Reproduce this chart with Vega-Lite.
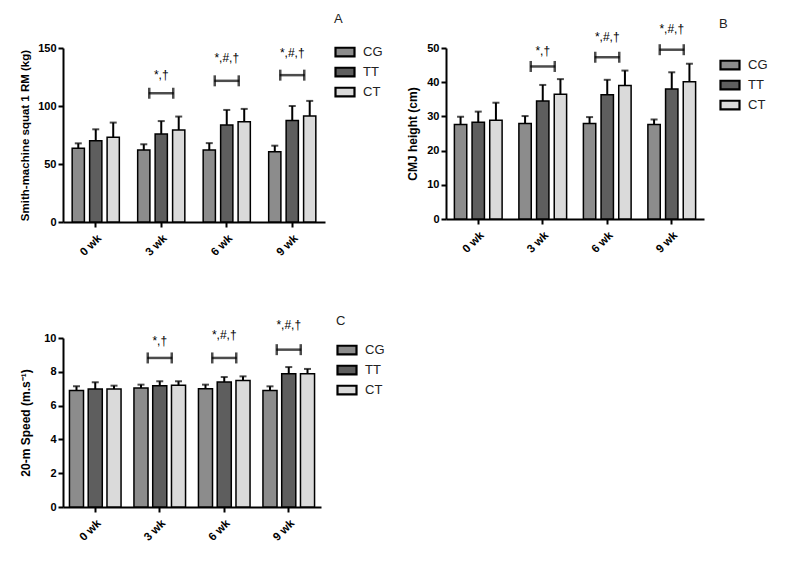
{
  "$schema": "https://vega.github.io/schema/vega-lite/v6.json",
  "padding": {"left": 19, "top": 13, "right": 5, "bottom": 5},
  "background": "white",
  "datasets": {
    "a": [
      {"week": "0 wk", "group": "CG", "mean": 63.5, "upper": 67.8},
      {"week": "0 wk", "group": "TT", "mean": 70.1, "upper": 79.9},
      {"week": "0 wk", "group": "CT", "mean": 73.0, "upper": 85.7},
      {"week": "3 wk", "group": "CG", "mean": 62.0, "upper": 67.0},
      {"week": "3 wk", "group": "TT", "mean": 75.9, "upper": 87.0},
      {"week": "3 wk", "group": "CT", "mean": 79.3, "upper": 90.9},
      {"week": "6 wk", "group": "CG", "mean": 62.0, "upper": 68.0},
      {"week": "6 wk", "group": "TT", "mean": 83.7, "upper": 96.6},
      {"week": "6 wk", "group": "CT", "mean": 86.5, "upper": 97.5},
      {"week": "9 wk", "group": "CG", "mean": 60.6, "upper": 65.8},
      {"week": "9 wk", "group": "TT", "mean": 87.4, "upper": 100.0},
      {"week": "9 wk", "group": "CT", "mean": 91.4, "upper": 104.4}
    ],
    "sa": [
      {"week": "3 wk", "bracket": 111.0, "labelY": 127.0, "label": "*,†"},
      {"week": "6 wk", "bracket": 121.7, "labelY": 141.0, "label": "*,#,†"},
      {"week": "9 wk", "bracket": 126.6, "labelY": 145.7, "label": "*,#,†"}
    ],
    "b": [
      {"week": "0 wk", "group": "CG", "mean": 27.6, "upper": 29.9},
      {"week": "0 wk", "group": "TT", "mean": 28.3, "upper": 31.4},
      {"week": "0 wk", "group": "CT", "mean": 28.9, "upper": 34.0},
      {"week": "3 wk", "group": "CG", "mean": 27.9, "upper": 30.1},
      {"week": "3 wk", "group": "TT", "mean": 34.5, "upper": 39.2},
      {"week": "3 wk", "group": "CT", "mean": 36.5, "upper": 40.9},
      {"week": "6 wk", "group": "CG", "mean": 27.9, "upper": 29.8},
      {"week": "6 wk", "group": "TT", "mean": 36.3, "upper": 40.7},
      {"week": "6 wk", "group": "CT", "mean": 39.0, "upper": 43.4},
      {"week": "9 wk", "group": "CG", "mean": 27.6, "upper": 29.1},
      {"week": "9 wk", "group": "TT", "mean": 38.0, "upper": 42.9},
      {"week": "9 wk", "group": "CT", "mean": 40.1, "upper": 45.4}
    ],
    "sb": [
      {"week": "3 wk", "bracket": 44.6, "labelY": 49.0, "label": "*,†"},
      {"week": "6 wk", "bracket": 47.3, "labelY": 53.3, "label": "*,#,†"},
      {"week": "9 wk", "bracket": 49.5, "labelY": 55.7, "label": "*,#,†"}
    ],
    "c": [
      {"week": "0 wk", "group": "CG", "mean": 6.9, "upper": 7.14},
      {"week": "0 wk", "group": "TT", "mean": 6.98, "upper": 7.38},
      {"week": "0 wk", "group": "CT", "mean": 6.98, "upper": 7.18},
      {"week": "3 wk", "group": "CG", "mean": 7.04, "upper": 7.24},
      {"week": "3 wk", "group": "TT", "mean": 7.18, "upper": 7.44},
      {"week": "3 wk", "group": "CT", "mean": 7.2, "upper": 7.44},
      {"week": "6 wk", "group": "CG", "mean": 7.0, "upper": 7.24},
      {"week": "6 wk", "group": "TT", "mean": 7.4, "upper": 7.69},
      {"week": "6 wk", "group": "CT", "mean": 7.48, "upper": 7.73},
      {"week": "9 wk", "group": "CG", "mean": 6.9, "upper": 7.14},
      {"week": "9 wk", "group": "TT", "mean": 7.89, "upper": 8.28},
      {"week": "9 wk", "group": "CT", "mean": 7.89, "upper": 8.17}
    ],
    "sc": [
      {"week": "3 wk", "bracket": 8.82, "labelY": 9.8, "label": "*,†"},
      {"week": "6 wk", "bracket": 8.82, "labelY": 10.15, "label": "*,#,†"},
      {"week": "9 wk", "bracket": 9.31, "labelY": 10.75, "label": "*,#,†"}
    ]
  },
  "config": {
    "font": "Liberation Sans",
    "view": {"stroke": null},
    "axis": {
      "grid": false,
      "domainColor": "black",
      "domainWidth": 2,
      "tickColor": "black",
      "tickWidth": 2,
      "tickSize": 5,
      "labelFont": "Liberation Sans",
      "labelFontWeight": "bold",
      "labelFontSize": 11,
      "labelColor": "black",
      "labelPadding": 2,
      "labelOverlap": false,
      "titleFont": "Liberation Sans",
      "titleFontWeight": "bold",
      "titleFontSize": 11.5,
      "titleColor": "black",
      "titlePadding": 7
    },
    "axisX": {"labelPadding": 5, "labelFontSize": 11.5},
    "legend": {
      "orient": "none",
      "titleFont": "Liberation Sans",
      "titleFontWeight": "normal",
      "titleFontSize": 13,
      "titleColor": "#222",
      "labelFont": "Liberation Sans",
      "labelFontSize": 13,
      "labelColor": "#222",
      "labelOffset": 7,
      "symbolType": "M-1,-0.45L1,-0.45L1,0.45L-1,0.45Z",
      "symbolSize": 361,
      "symbolStrokeColor": "black",
      "symbolStrokeWidth": 2.2,
      "rowPadding": 0
    }
  },
  "resolve": {"scale": {"color": "independent", "y": "independent", "x": "independent", "xOffset": "independent"}, "legend": {"color": "independent"}, "axis": {"y": "independent", "x": "independent"}},
  "vconcat": [
    {
      "resolve": {"scale": {"color": "independent", "y": "independent", "x": "independent", "xOffset": "independent"}, "legend": {"color": "independent"}, "axis": {"y": "independent", "x": "independent"}},
      "hconcat": [
        {
          "width": 262,
          "height": 174,
          "layer": [
            {
              "data": {"name": "a"},
              "mark": {"type": "bar", "stroke": "black", "strokeWidth": 1.5},
              "encoding": {
                "x": {"field": "week", "type": "nominal", "sort": ["0 wk", "3 wk", "6 wk", "9 wk"], "scale": {"paddingInner": 0.28, "paddingOuter": 0.14}, "axis": {"title": null, "labelAngle": -45}},
                "xOffset": {"field": "group", "type": "nominal", "sort": ["CG", "TT", "CT"], "scale": {"paddingInner": 0.3, "paddingOuter": 0}},
                "y": {"field": "mean", "type": "quantitative", "scale": {"domain": [0, 150], "nice": false}, "axis": {"title": "Smith-machine squat 1 RM (kg)", "values": [0, 50, 100, 150]}},
                "color": {"field": "group", "type": "nominal", "sort": ["CG", "TT", "CT"], "scale": {"domain": ["CG", "TT", "CT"], "range": ["#8c8c8c", "#5e5e5e", "#dadada"]}, "legend": {"title": "A", "legendX": 271, "legendY": -35, "titlePadding": 15}}
              }
            },
            {
              "data": {"name": "a"},
              "mark": {"type": "rule", "strokeWidth": 2, "color": "black"},
              "encoding": {
                "x": {"field": "week", "type": "nominal", "sort": ["0 wk", "3 wk", "6 wk", "9 wk"]},
                "xOffset": {"field": "group", "type": "nominal", "sort": ["CG", "TT", "CT"]},
                "y": {"field": "mean", "type": "quantitative", "axis": {"title": "Smith-machine squat 1 RM (kg)", "values": [0, 50, 100, 150]}},
                "y2": {"field": "upper"}
              }
            },
            {
              "data": {"name": "a"},
              "mark": {"type": "tick", "size": 7, "thickness": 2, "color": "black"},
              "encoding": {
                "x": {"field": "week", "type": "nominal", "sort": ["0 wk", "3 wk", "6 wk", "9 wk"]},
                "xOffset": {"field": "group", "type": "nominal", "sort": ["CG", "TT", "CT"]},
                "y": {"field": "upper", "type": "quantitative", "axis": {"title": "Smith-machine squat 1 RM (kg)", "values": [0, 50, 100, 150]}}
              }
            },
            {
              "data": {"name": "sa"},
              "mark": {"type": "tick", "size": 25, "thickness": 2.5, "color": "black"},
              "encoding": {
                "x": {"field": "week", "type": "nominal", "sort": ["0 wk", "3 wk", "6 wk", "9 wk"]},
                "y": {"field": "bracket", "type": "quantitative", "axis": {"title": "Smith-machine squat 1 RM (kg)", "values": [0, 50, 100, 150]}}
              }
            },
            {
              "data": {"name": "sa"},
              "mark": {"type": "tick", "orient": "vertical", "size": 11, "thickness": 2.5, "color": "black", "xOffset": -12},
              "encoding": {
                "x": {"field": "week", "type": "nominal", "sort": ["0 wk", "3 wk", "6 wk", "9 wk"]},
                "y": {"field": "bracket", "type": "quantitative", "axis": {"title": "Smith-machine squat 1 RM (kg)", "values": [0, 50, 100, 150]}}
              }
            },
            {
              "data": {"name": "sa"},
              "mark": {"type": "tick", "orient": "vertical", "size": 11, "thickness": 2.5, "color": "black", "xOffset": 12},
              "encoding": {
                "x": {"field": "week", "type": "nominal", "sort": ["0 wk", "3 wk", "6 wk", "9 wk"]},
                "y": {"field": "bracket", "type": "quantitative", "axis": {"title": "Smith-machine squat 1 RM (kg)", "values": [0, 50, 100, 150]}}
              }
            },
            {
              "data": {"name": "sa"},
              "mark": {"type": "text", "fontSize": 12, "font": "Liberation Sans", "color": "black", "baseline": "middle"},
              "encoding": {
                "x": {"field": "week", "type": "nominal", "sort": ["0 wk", "3 wk", "6 wk", "9 wk"]},
                "y": {"field": "labelY", "type": "quantitative", "axis": {"title": "Smith-machine squat 1 RM (kg)", "values": [0, 50, 100, 150]}},
                "text": {"field": "label"}
              }
            }
          ]
        },
        {
          "width": 258,
          "height": 171,
          "layer": [
            {
              "data": {"name": "b"},
              "mark": {"type": "bar", "stroke": "black", "strokeWidth": 1.5},
              "encoding": {
                "x": {"field": "week", "type": "nominal", "sort": ["0 wk", "3 wk", "6 wk", "9 wk"], "scale": {"paddingInner": 0.26, "paddingOuter": 0.13}, "axis": {"title": null, "labelAngle": -45}},
                "xOffset": {"field": "group", "type": "nominal", "sort": ["CG", "TT", "CT"], "scale": {"paddingInner": 0.3, "paddingOuter": 0}},
                "y": {"field": "mean", "type": "quantitative", "scale": {"domain": [0, 50], "nice": false}, "axis": {"title": "CMJ height (cm)", "titleFontSize": 12, "values": [0, 10, 20, 30, 40, 50]}},
                "color": {"field": "group", "type": "nominal", "sort": ["CG", "TT", "CT"], "scale": {"domain": ["CG", "TT", "CT"], "range": ["#8c8c8c", "#5e5e5e", "#dadada"]}, "legend": {"title": "B", "legendX": 273, "legendY": -30, "titlePadding": 23}}
              }
            },
            {
              "data": {"name": "b"},
              "mark": {"type": "rule", "strokeWidth": 2, "color": "black"},
              "encoding": {
                "x": {"field": "week", "type": "nominal", "sort": ["0 wk", "3 wk", "6 wk", "9 wk"]},
                "xOffset": {"field": "group", "type": "nominal", "sort": ["CG", "TT", "CT"]},
                "y": {"field": "mean", "type": "quantitative", "axis": {"title": "CMJ height (cm)", "titleFontSize": 12, "values": [0, 10, 20, 30, 40, 50]}},
                "y2": {"field": "upper"}
              }
            },
            {
              "data": {"name": "b"},
              "mark": {"type": "tick", "size": 7, "thickness": 2, "color": "black"},
              "encoding": {
                "x": {"field": "week", "type": "nominal", "sort": ["0 wk", "3 wk", "6 wk", "9 wk"]},
                "xOffset": {"field": "group", "type": "nominal", "sort": ["CG", "TT", "CT"]},
                "y": {"field": "upper", "type": "quantitative", "axis": {"title": "CMJ height (cm)", "titleFontSize": 12, "values": [0, 10, 20, 30, 40, 50]}}
              }
            },
            {
              "data": {"name": "sb"},
              "mark": {"type": "tick", "size": 25, "thickness": 2.5, "color": "black"},
              "encoding": {
                "x": {"field": "week", "type": "nominal", "sort": ["0 wk", "3 wk", "6 wk", "9 wk"]},
                "y": {"field": "bracket", "type": "quantitative", "axis": {"title": "CMJ height (cm)", "titleFontSize": 12, "values": [0, 10, 20, 30, 40, 50]}}
              }
            },
            {
              "data": {"name": "sb"},
              "mark": {"type": "tick", "orient": "vertical", "size": 11, "thickness": 2.5, "color": "black", "xOffset": -12},
              "encoding": {
                "x": {"field": "week", "type": "nominal", "sort": ["0 wk", "3 wk", "6 wk", "9 wk"]},
                "y": {"field": "bracket", "type": "quantitative", "axis": {"title": "CMJ height (cm)", "titleFontSize": 12, "values": [0, 10, 20, 30, 40, 50]}}
              }
            },
            {
              "data": {"name": "sb"},
              "mark": {"type": "tick", "orient": "vertical", "size": 11, "thickness": 2.5, "color": "black", "xOffset": 12},
              "encoding": {
                "x": {"field": "week", "type": "nominal", "sort": ["0 wk", "3 wk", "6 wk", "9 wk"]},
                "y": {"field": "bracket", "type": "quantitative", "axis": {"title": "CMJ height (cm)", "titleFontSize": 12, "values": [0, 10, 20, 30, 40, 50]}}
              }
            },
            {
              "data": {"name": "sb"},
              "mark": {"type": "text", "fontSize": 12, "font": "Liberation Sans", "color": "black", "baseline": "middle"},
              "encoding": {
                "x": {"field": "week", "type": "nominal", "sort": ["0 wk", "3 wk", "6 wk", "9 wk"]},
                "y": {"field": "labelY", "type": "quantitative", "axis": {"title": "CMJ height (cm)", "titleFontSize": 12, "values": [0, 10, 20, 30, 40, 50]}},
                "text": {"field": "label"}
              }
            }
          ]
        }
      ],
      "spacing": 23
    },
    {
      "width": 258,
      "height": 169,
      "layer": [
        {
          "data": {"name": "c"},
          "mark": {"type": "bar", "stroke": "black", "strokeWidth": 1.5},
          "encoding": {
            "x": {"field": "week", "type": "nominal", "sort": ["0 wk", "3 wk", "6 wk", "9 wk"], "scale": {"paddingInner": 0.2, "paddingOuter": 0.1}, "axis": {"title": null, "labelAngle": -45}},
            "xOffset": {"field": "group", "type": "nominal", "sort": ["CG", "TT", "CT"], "scale": {"paddingInner": 0.25, "paddingOuter": 0}},
            "y": {"field": "mean", "type": "quantitative", "scale": {"domain": [0, 10], "nice": false}, "axis": {"title": "20-m Speed  (m.s⁻¹)", "titleFontSize": 12, "titlePadding": 11, "values": [0, 2, 4, 6, 8, 10]}},
            "color": {"field": "group", "type": "nominal", "sort": ["CG", "TT", "CT"], "scale": {"domain": ["CG", "TT", "CT"], "range": ["#8c8c8c", "#5e5e5e", "#dadada"]}, "legend": {"title": "C", "legendX": 273, "legendY": -23, "titlePadding": 11}}
          }
        },
        {
          "data": {"name": "c"},
          "mark": {"type": "rule", "strokeWidth": 2, "color": "black"},
          "encoding": {
            "x": {"field": "week", "type": "nominal", "sort": ["0 wk", "3 wk", "6 wk", "9 wk"]},
            "xOffset": {"field": "group", "type": "nominal", "sort": ["CG", "TT", "CT"]},
            "y": {"field": "mean", "type": "quantitative", "axis": {"title": "20-m Speed  (m.s⁻¹)", "titleFontSize": 12, "titlePadding": 11, "values": [0, 2, 4, 6, 8, 10]}},
            "y2": {"field": "upper"}
          }
        },
        {
          "data": {"name": "c"},
          "mark": {"type": "tick", "size": 7, "thickness": 2, "color": "black"},
          "encoding": {
            "x": {"field": "week", "type": "nominal", "sort": ["0 wk", "3 wk", "6 wk", "9 wk"]},
            "xOffset": {"field": "group", "type": "nominal", "sort": ["CG", "TT", "CT"]},
            "y": {"field": "upper", "type": "quantitative", "axis": {"title": "20-m Speed  (m.s⁻¹)", "titleFontSize": 12, "titlePadding": 11, "values": [0, 2, 4, 6, 8, 10]}}
          }
        },
        {
          "data": {"name": "sc"},
          "mark": {"type": "tick", "size": 25, "thickness": 2.5, "color": "black"},
          "encoding": {
            "x": {"field": "week", "type": "nominal", "sort": ["0 wk", "3 wk", "6 wk", "9 wk"]},
            "y": {"field": "bracket", "type": "quantitative", "axis": {"title": "20-m Speed  (m.s⁻¹)", "titleFontSize": 12, "titlePadding": 11, "values": [0, 2, 4, 6, 8, 10]}}
          }
        },
        {
          "data": {"name": "sc"},
          "mark": {"type": "tick", "orient": "vertical", "size": 11, "thickness": 2.5, "color": "black", "xOffset": -12},
          "encoding": {
            "x": {"field": "week", "type": "nominal", "sort": ["0 wk", "3 wk", "6 wk", "9 wk"]},
            "y": {"field": "bracket", "type": "quantitative", "axis": {"title": "20-m Speed  (m.s⁻¹)", "titleFontSize": 12, "titlePadding": 11, "values": [0, 2, 4, 6, 8, 10]}}
          }
        },
        {
          "data": {"name": "sc"},
          "mark": {"type": "tick", "orient": "vertical", "size": 11, "thickness": 2.5, "color": "black", "xOffset": 12},
          "encoding": {
            "x": {"field": "week", "type": "nominal", "sort": ["0 wk", "3 wk", "6 wk", "9 wk"]},
            "y": {"field": "bracket", "type": "quantitative", "axis": {"title": "20-m Speed  (m.s⁻¹)", "titleFontSize": 12, "titlePadding": 11, "values": [0, 2, 4, 6, 8, 10]}}
          }
        },
        {
          "data": {"name": "sc"},
          "mark": {"type": "text", "fontSize": 12, "font": "Liberation Sans", "color": "black", "baseline": "middle"},
          "encoding": {
            "x": {"field": "week", "type": "nominal", "sort": ["0 wk", "3 wk", "6 wk", "9 wk"]},
            "y": {"field": "labelY", "type": "quantitative", "axis": {"title": "20-m Speed  (m.s⁻¹)", "titleFontSize": 12, "titlePadding": 11, "values": [0, 2, 4, 6, 8, 10]}},
            "text": {"field": "label"}
          }
        }
      ]
    }
  ],
  "spacing": 57
}
